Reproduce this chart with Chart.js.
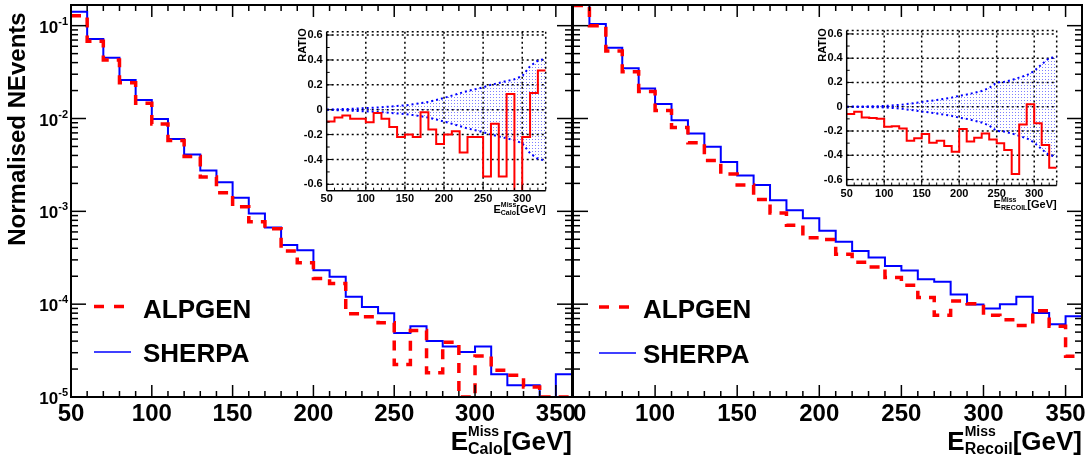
<!DOCTYPE html>
<html>
<head>
<meta charset="utf-8">
<script src="https://cdn.jsdelivr.net/npm/chart.js@4/dist/chart.umd.min.js"></script>
<style>
  html, body { margin: 0; padding: 0; background: #fff; }
  #wrap { position: relative; width: 1087px; height: 459px; overflow: hidden; }
  canvas { position: absolute; left: 0; top: 0; }
</style>
</head>
<body>
<div id="wrap">
  <canvas id="mainRecoil" width="1087" height="459"></canvas>
  <canvas id="mainCalo" width="1087" height="459"></canvas>
  <canvas id="ratioCalo" width="1087" height="459"></canvas>
  <canvas id="ratioRecoil" width="1087" height="459"></canvas>
</div>
<script>
// 10 GeV bins from 50 to 360 GeV (low edges + final upper edge)
const binEdges = [50, 60, 70, 80, 90, 100, 110, 120, 130, 140, 150, 160, 170, 180, 190, 200,
  210, 220, 230, 240, 250, 260, 270, 280, 290, 300, 310, 320, 330, 340, 350, 360];

// normalised events per bin (1e-5 = empty bin, drawn on the axis floor)
const caloSherpa = [0.141, 0.072, 0.045, 0.026, 0.0158, 0.0099, 0.0060, 0.0041, 0.00275, 0.00206,
  0.0014, 0.00095, 0.00067, 0.000435, 0.00038, 0.000232, 0.000197, 0.00012, 0.000093, 0.00008,
  0.000049, 0.000058, 0.00004, 0.000035, 0.0000306, 0.000035, 0.0000176, 0.0000134, 0.0000134,
  1e-5, 0.0000176];
const caloAlpgen = [0.128, 0.068, 0.0427, 0.0243, 0.0146, 0.0087, 0.0058, 0.0039, 0.00235, 0.00159,
  0.00112, 0.00077, 0.00065, 0.000375, 0.000279, 0.000189, 0.000167, 0.000079, 0.000073, 0.000063,
  0.0000224, 0.000052, 0.0000183, 0.000039, 1e-5, 0.0000277, 0.0000194, 0.0000171, 0.0000128,
  1e-5, 1e-5];
const recoilSherpa = [0.176, 0.104, 0.058, 0.0347, 0.0211, 0.0143, 0.0096, 0.0069, 0.00495, 0.0034,
  0.00244, 0.00192, 0.00132, 0.00103, 0.00084, 0.000616, 0.000469, 0.000375, 0.000318, 0.000258,
  0.000231, 0.000185, 0.000174, 0.000127, 0.000099, 0.0000897, 0.0001, 0.00012, 0.0000805,
  0.0000608, 0.000074];
const recoilAlpgen = [0.165, 0.1, 0.0533, 0.0319, 0.0195, 0.0122, 0.008, 0.00548, 0.00352, 0.00252,
  0.00192, 0.00134, 0.00096, 0.00071, 0.000518, 0.000498, 0.000344, 0.000283, 0.000252, 0.000194,
  0.00016, 0.000118, 0.000076, 0.000108, 0.000101, 0.000076, 0.000068, 0.000059, 0.000085,
  0.000058, 0.0000275];

// ratio insets: 10 GeV bins from 50 to 330 GeV
const ratioEdges = [50, 60, 70, 80, 90, 100, 110, 120, 130, 140, 150, 160, 170, 180, 190, 200,
  210, 220, 230, 240, 250, 260, 270, 280, 290, 300, 310, 320, 330];
const caloRatio = [-0.094, -0.062, -0.046, -0.072, -0.072, -0.10, -0.027, -0.072, -0.14, -0.22,
  -0.20, -0.22, -0.02, -0.16, -0.276, -0.20, -0.174, -0.343, -0.22, -0.22, -0.536, -0.113, -0.536,
  0.126, -1, -0.22, 0.134, 0.316];
const recoilRatio = [-0.06, -0.041, -0.088, -0.093, -0.10, -0.165, -0.16, -0.18, -0.28, -0.26,
  -0.225, -0.297, -0.28, -0.324, -0.37, -0.184, -0.286, -0.255, -0.22, -0.27, -0.30, -0.357, -0.555,
  -0.146, 0.02, -0.137, -0.316, -0.503];
// uncertainty band, at the bin edges
const caloBandUp = [0, 0.003, 0.005, 0.007, 0.01, 0.013, 0.016, 0.02, 0.025, 0.03, 0.035, 0.043,
  0.052, 0.063, 0.078, 0.095, 0.113, 0.132, 0.15, 0.165, 0.18, 0.2, 0.215, 0.23, 0.245, 0.27, 0.35,
  0.395, 0.41];
const caloBandDown = [0, -0.003, -0.005, -0.007, -0.01, -0.013, -0.016, -0.02, -0.025, -0.03, -0.035,
  -0.043, -0.052, -0.063, -0.078, -0.095, -0.113, -0.132, -0.15, -0.165, -0.18, -0.2, -0.215, -0.23,
  -0.245, -0.27, -0.35, -0.395, -0.41];
const recoilBandUp = [0, 0.001, 0.002, 0.003, 0.004, 0.006, 0.01, 0.015, 0.022, 0.03, 0.04, 0.047,
  0.055, 0.065, 0.075, 0.09, 0.1, 0.115, 0.13, 0.155, 0.2, 0.205, 0.22, 0.24, 0.26, 0.295, 0.35,
  0.4, 0.41];
const recoilBandDown = [0, -0.001, -0.002, -0.003, -0.004, -0.006, -0.01, -0.015, -0.022, -0.03,
  -0.04, -0.047, -0.055, -0.065, -0.075, -0.09, -0.1, -0.115, -0.13, -0.155, -0.2, -0.205, -0.22,
  -0.24, -0.26, -0.295, -0.35, -0.4, -0.41];

// tick labels
const mainTicksX = [50, 100, 150, 200, 250, 300, 350];
const mainDecades = [-5, -4, -3, -2, -1];
const ratioTicksX = [50, 100, 150, 200, 250, 300];
const ratioTicksY = [0.6, 0.4, 0.2, 0, -0.2, -0.4, -0.6];

const FONT = '"Liberation Sans", Arial, Helvetica, sans-serif';
const bold = (sz) => "bold " + sz + "px " + FONT;

const seg = (ctx, x1, y1, x2, y2) => {
  ctx.beginPath();
  ctx.moveTo(x1, y1);
  ctx.lineTo(x2, y2);
  ctx.stroke();
};

// step points: one point per low edge (carrying that bin), plus the last upper edge
const steps = (edges, vals) =>
  edges.map((e, i) => ({ x: e, y: vals[Math.min(i, vals.length - 1)] }));
const atEdges = (edges, vals) => edges.map((e, i) => ({ x: e, y: vals[i] }));

// E^{sup}_{sub}[GeV], right aligned at `right`
const energyTitle = (ctx, right, base, big, supSz, subSz, sup, sub, dSup, dSub) => {
  ctx.textAlign = "left";
  ctx.textBaseline = "alphabetic";
  ctx.font = bold(big);
  const wE = ctx.measureText("E").width;
  const wG = ctx.measureText("[GeV]").width;
  ctx.font = bold(supSz);
  const wSup = ctx.measureText(sup).width;
  ctx.font = bold(subSz);
  const wSub = ctx.measureText(sub).width;
  const wMid = Math.max(wSup, wSub);
  const x0 = right - wE - wMid - wG;
  ctx.font = bold(big);
  ctx.fillText("E", x0, base);
  ctx.fillText("[GeV]", x0 + wE + wMid, base);
  ctx.font = bold(supSz);
  ctx.fillText(sup, x0 + wE, base - dSup);
  ctx.font = bold(subSz);
  ctx.fillText(sub, x0 + wE, base + dSub);
};

const histFrame = {
  id: "histFrame",
  beforeDraw(chart, args, o) {
    if (o.whiteTo) {
      const ctx = chart.ctx;
      ctx.save();
      ctx.fillStyle = "#fff";
      ctx.fillRect(0, 0, o.whiteTo, chart.height);
      ctx.restore();
    }
  },
  afterDraw(chart, args, o) {
    const { ctx, chartArea: a } = chart;
    const x = chart.scales.x, y = chart.scales.y;
    ctx.save();
    ctx.strokeStyle = "#000";
    ctx.lineWidth = 1.5;
    for (let v = 50; v <= 360; v += 10) {
      const px = x.getPixelForValue(v);
      const len = v % 50 === 0 ? 12 : 6;
      seg(ctx, px, a.bottom, px, a.bottom - len);
      seg(ctx, px, a.top, px, a.top + len);
    }
    for (const e of mainDecades) {
      for (let m = 1; m <= 9; m++) {
        const val = m * Math.pow(10, e);
        if (val > y.max) break;
        const py = y.getPixelForValue(val);
        const len = m === 1 ? 15 : 7;
        seg(ctx, a.left, py, a.left + len, py);
        seg(ctx, a.right, py, a.right - len, py);
      }
    }
    ctx.lineWidth = 2;
    ctx.strokeRect(a.left, a.top, a.right - a.left, a.bottom - a.top);

    ctx.fillStyle = "#000";
    ctx.font = bold(24);
    ctx.textAlign = "center";
    ctx.textBaseline = "alphabetic";
    for (const v of mainTicksX) ctx.fillText(String(v), x.getPixelForValue(v), 421);

    if (o.yLabels) {
      for (const e of mainDecades) {
        const py = y.getPixelForValue(Math.pow(10, e));
        const sup = "-" + Math.abs(e);
        ctx.font = bold(11);
        const wS = ctx.measureText(sup).width;
        ctx.textAlign = "right";
        ctx.font = bold(17);
        ctx.fillText("10", 68 - wS, py + 7);
        ctx.textAlign = "left";
        ctx.font = bold(11);
        ctx.fillText(sup, 68 - wS, py - 1);
      }
      ctx.save();
      ctx.translate(25, 129);
      ctx.rotate(-Math.PI / 2);
      ctx.font = bold(24);
      ctx.textAlign = "center";
      ctx.fillText("Normalised NEvents", 0, 0);
      ctx.restore();
    }

    energyTitle(ctx, a.right, 450, 26, 14, 16, "Miss", o.sub, 14, 4);

    // legend
    const L = o.legend;
    ctx.strokeStyle = "#ff0000";
    ctx.lineWidth = 3.5;
    ctx.setLineDash([10, 10]);
    seg(ctx, L.x, L.yA, L.x + 30, L.yA);
    ctx.setLineDash([]);
    ctx.strokeStyle = "#0000ff";
    ctx.lineWidth = 1.5;
    seg(ctx, L.x, L.yS, L.x + 37, L.yS);
    ctx.fillStyle = "#000";
    ctx.font = bold(26);
    ctx.textAlign = "left";
    ctx.fillText("ALPGEN", L.tx, L.yA + 11);
    ctx.fillText("SHERPA", L.tx, L.yS + 10);
    ctx.restore();
  },
};

const ratioFrame = {
  id: "ratioFrame",
  beforeDraw(chart) {
    const { ctx, chartArea: a } = chart;
    const x = chart.scales.x, y = chart.scales.y;
    ctx.save();
    ctx.fillStyle = "#fff";
    ctx.fillRect(a.left, a.top, a.right - a.left, a.bottom - a.top);
    ctx.strokeStyle = "#000";
    ctx.lineWidth = 1.5;
    ctx.setLineDash([2, 3]);
    for (const v of ratioTicksX) {
      if (v === 50) continue;
      const px = x.getPixelForValue(v);
      seg(ctx, px, a.top, px, a.bottom);
    }
    for (const v of ratioTicksY) {
      const py = y.getPixelForValue(v);
      seg(ctx, a.left, py, a.right, py);
    }
    seg(ctx, a.left, a.top, a.right, a.top);
    seg(ctx, a.right, a.top, a.right, a.bottom);
    ctx.restore();
  },
  afterDraw(chart, args, o) {
    const { ctx, chartArea: a } = chart;
    const x = chart.scales.x, y = chart.scales.y;
    ctx.save();
    ctx.strokeStyle = "#000";
    ctx.lineWidth = 1;
    for (let v = 50; v <= 330; v += 10) {
      const px = x.getPixelForValue(v);
      seg(ctx, px, a.bottom, px, a.bottom - (v % 50 === 0 ? 6 : 3));
    }
    for (let v = -6; v <= 6; v++) {
      const py = y.getPixelForValue(v / 10);
      seg(ctx, a.left, py, a.left + (v % 2 === 0 ? 6 : 3), py);
    }
    ctx.lineWidth = 1.5;
    seg(ctx, a.left, a.top, a.left, a.bottom);
    seg(ctx, a.left, a.bottom, a.right, a.bottom);

    ctx.fillStyle = "#000";
    ctx.font = bold(11);
    ctx.textAlign = "center";
    ctx.textBaseline = "alphabetic";
    for (const v of ratioTicksX) ctx.fillText(String(v), x.getPixelForValue(v), a.bottom + 11);
    ctx.textAlign = "right";
    ctx.textBaseline = "middle";
    for (const v of ratioTicksY) ctx.fillText(String(v), a.left - 4, y.getPixelForValue(v));

    ctx.save();
    ctx.translate(a.left - 21, 45);
    ctx.rotate(-Math.PI / 2);
    ctx.textAlign = "center";
    ctx.textBaseline = "alphabetic";
    ctx.fillText("RATIO", 0, 0);
    ctx.restore();

    energyTitle(ctx, a.right, a.bottom + 22.5, 11, 7, 7, "Miss", o.sub, 6, 2);
    ctx.restore();
  },
};

const histChart = (id, pad, sherpa, alpgen, deco) =>
  new Chart(document.getElementById(id), {
    type: "line",
    data: {
      datasets: [
        { label: "ALPGEN", data: steps(binEdges, alpgen), borderColor: "#ff0000", borderWidth: 3.5,
          borderDash: [10, 8], stepped: "before", pointRadius: 0, fill: false },
        { label: "SHERPA", data: steps(binEdges, sherpa), borderColor: "#0000ff", borderWidth: 2,
          stepped: "before", pointRadius: 0, fill: false },
      ],
    },
    options: {
      responsive: false,
      animation: false,
      devicePixelRatio: 1,
      layout: { padding: pad },
      scales: {
        x: { type: "linear", min: 50, max: 360, display: false },
        y: { type: "logarithmic", min: 1e-5, max: 0.167, display: false },
      },
      plugins: { legend: { display: false }, tooltip: { enabled: false }, histFrame: deco },
    },
    plugins: [histFrame],
  });

const dotPattern = () => {
  const c = document.createElement("canvas");
  c.width = 3;
  c.height = 3;
  const g = c.getContext("2d");
  g.fillStyle = "rgba(40, 40, 255, 0.6)";
  g.fillRect(1, 1, 1, 1);
  return g.createPattern(c, "repeat");
};

const ratioChart = (id, pad, yMin, yMax, ratio, up, down, deco) =>
  new Chart(document.getElementById(id), {
    type: "line",
    data: {
      datasets: [
        { data: steps(ratioEdges, ratio), borderColor: "#ff0000", borderWidth: 2, stepped: "before",
          pointRadius: 0, fill: false },
        { data: atEdges(ratioEdges, up), borderColor: "#0000ff", borderWidth: 2, borderDash: [2, 3],
          pointRadius: 0, fill: "+1", backgroundColor: dotPattern() },
        { data: atEdges(ratioEdges, down), borderColor: "#0000ff", borderWidth: 2, borderDash: [2, 3],
          pointRadius: 0, fill: false },
      ],
    },
    options: {
      responsive: false,
      animation: false,
      devicePixelRatio: 1,
      layout: { padding: pad },
      scales: {
        x: { type: "linear", min: 50, max: 330, display: false },
        y: { type: "linear", min: yMin, max: yMax, display: false },
      },
      plugins: { legend: { display: false }, tooltip: { enabled: false }, ratioFrame: deco },
    },
    plugins: [ratioFrame],
  });

histChart("mainRecoil", { left: 573, top: 5, right: 5, bottom: 62 }, recoilSherpa, recoilAlpgen,
  { sub: "Recoil", legend: { x: 599, tx: 643, yA: 307, yS: 353 } });
histChart("mainCalo", { left: 71, top: 5, right: 515, bottom: 62 }, caloSherpa, caloAlpgen,
  { sub: "Calo", yLabels: true, whiteTo: 572, legend: { x: 94, tx: 143, yA: 306.5, yS: 352 } });
ratioChart("ratioCalo", { left: 326.7, top: 31.7, right: 541.3, bottom: 268.3 }, -0.651, 0.627,
  caloRatio, caloBandUp, caloBandDown, { sub: "Calo" });
ratioChart("ratioRecoil", { left: 846.7, top: 30.5, right: 30.3, bottom: 273.5 }, -0.649, 0.628,
  recoilRatio, recoilBandUp, recoilBandDown, { sub: "RECOIL" });
</script>
</body>
</html>
